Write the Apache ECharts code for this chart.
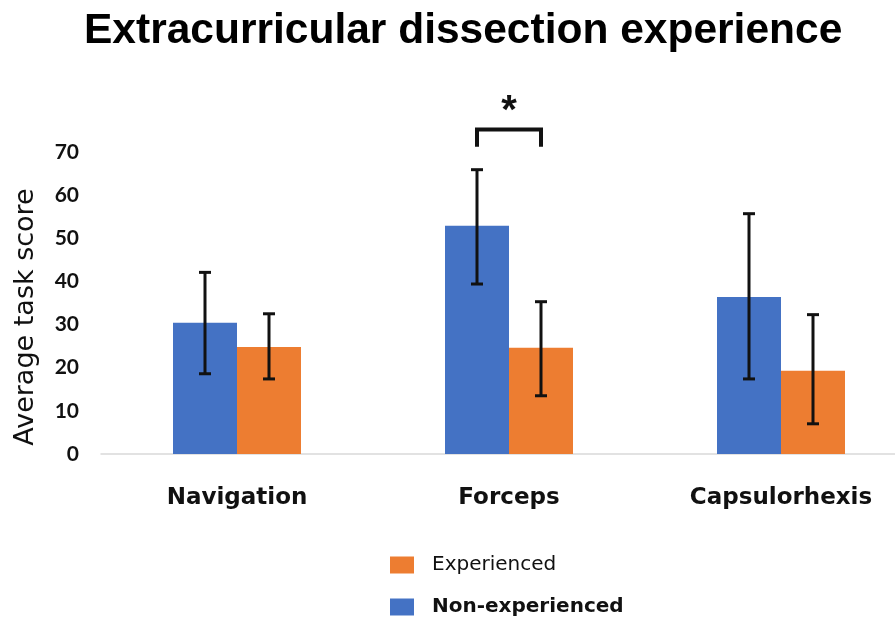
<!DOCTYPE html>
<html>
<head>
<meta charset="utf-8">
<script src="https://cdn.jsdelivr.net/npm/echarts@6/dist/echarts.min.js"></script>
<style>html,body{margin:0;padding:0;background:#fff}#c{width:895px;height:618px}</style>
</head>
<body>
<div id="c"></div>
<script>
var categories = ['Navigation', 'Forceps', 'Capsulorhexis'];
var nonExpMean = [30.4, 52.9, 36.4];
var nonExpLow = [18.6, 39.4, 17.4];
var nonExpHigh = [42.1, 65.9, 55.7];
var expMean = [24.8, 24.6, 19.3];
var expLow = [17.4, 13.5, 7.0];
var expHigh = [32.5, 35.3, 32.3];
var yTicks = [0, 10, 20, 30, 40, 50, 60, 70];
var sigCategory = 'Forceps';
var sigBracketTop = 75.2;
var sigBracketLeg = 71.2;
var sigStarValue = 79.3;

var BLUE = '#4472C4', ORANGE = '#ED7D31';
var BAR_W = 64;

function errSeries(name, low, high, offset) {
  return {
    type: 'custom',
    name: name + ' err',
    data: categories.map(function (c, i) { return [i, low[i], high[i]]; }),
    clip: false,
    z: 10,
    silent: true,
    renderItem: function (params, api) {
      var x = api.value(0);
      var pLow = api.coord([x, api.value(1)]);
      var pHigh = api.coord([x, api.value(2)]);
      var cx = pLow[0] + offset;
      var cap = 6;
      var st = { stroke: '#111', lineWidth: 3 };
      return {
        type: 'group',
        children: [
          { type: 'line', shape: { x1: cx, y1: pLow[1], x2: cx, y2: pHigh[1] }, style: st },
          { type: 'line', shape: { x1: cx - cap, y1: pHigh[1], x2: cx + cap, y2: pHigh[1] }, style: st },
          { type: 'line', shape: { x1: cx - cap, y1: pLow[1], x2: cx + cap, y2: pLow[1] }, style: st }
        ]
      };
    }
  };
}

var chart = echarts.init(document.getElementById('c'));
chart.setOption({
  animation: false,
  title: {
    text: 'Extracurricular dissection experience',
    left: 79,
    top: 5,
    textStyle: { fontFamily: 'Liberation Sans', fontWeight: 'bold', fontSize: 42.5, color: '#000' }
  },
  legend: {
    orient: 'vertical',
    left: 390,
    top: 555,
    padding: 0,
    itemWidth: 24,
    itemHeight: 17,
    itemGap: 22,
    icon: 'rect',
    data: [
      { name: 'Experienced', textStyle: { fontWeight: 'normal' } },
      { name: 'Non-experienced', textStyle: { fontWeight: 'bold' } }
    ],
    textStyle: { fontFamily: 'DejaVu Sans', fontSize: 20, color: '#111', padding: [0, 0, 0, 13] }
  },
  grid: { left: 101, width: 816, top: 152, bottom: 164, containLabel: false, outerBoundsMode: 'none' },
  xAxis: {
    type: 'category',
    data: categories,
    axisLine: { show: true, lineStyle: { color: '#d9d9d9', width: 1.5 } },
    axisTick: { show: false },
    axisLabel: { fontFamily: 'DejaVu Sans', fontWeight: 'bold', fontSize: 23, color: '#111', margin: 33 }
  },
  yAxis: {
    type: 'value',
    min: yTicks[0],
    max: yTicks[yTicks.length - 1],
    interval: 10,
    name: 'Average task score',
    nameLocation: 'middle',
    nameGap: 62,
    nameTextStyle: { fontFamily: 'DejaVu Sans', fontSize: 27, color: '#111', padding: [0, 28, 0, 0] },
    axisLine: { show: false },
    axisTick: { show: false },
    splitLine: { show: false },
    axisLabel: { fontFamily: 'Lato', fontWeight: 'bold', fontSize: 21, color: '#111', margin: 22 }
  },
  series: [
    { type: 'bar', name: 'Non-experienced', data: nonExpMean, barWidth: BAR_W, barGap: '0%', itemStyle: { color: BLUE } },
    { type: 'bar', name: 'Experienced', data: expMean, barWidth: BAR_W, barGap: '0%', itemStyle: { color: ORANGE } },
    errSeries('Non-experienced', nonExpLow, nonExpHigh, -BAR_W / 2),
    errSeries('Experienced', expLow, expHigh, BAR_W / 2),
    {
      type: 'custom',
      name: 'sig',
      data: [[categories.indexOf(sigCategory), sigBracketTop, sigBracketLeg, sigStarValue]],
      clip: false,
      silent: true,
      z: 10,
      renderItem: function (params, api) {
        var x = api.value(0);
        var pTop = api.coord([x, api.value(1)]);
        var pLeg = api.coord([x, api.value(2)]);
        var pStar = api.coord([x, api.value(3)]);
        var x1 = pTop[0] - BAR_W / 2, x2 = pTop[0] + BAR_W / 2;
        return {
          type: 'group',
          children: [
            { type: 'polyline', shape: { points: [[x1, pLeg[1]], [x1, pTop[1]], [x2, pTop[1]], [x2, pLeg[1]]] },
              style: { stroke: '#111', lineWidth: 4, fill: null } },
            { type: 'text', style: { text: '*', x: pTop[0], y: pStar[1], align: 'center', verticalAlign: 'middle',
              font: 'bold 40px Liberation Sans', fill: '#111' } }
          ]
        };
      }
    }
  ]
});
</script>
</body>
</html>
